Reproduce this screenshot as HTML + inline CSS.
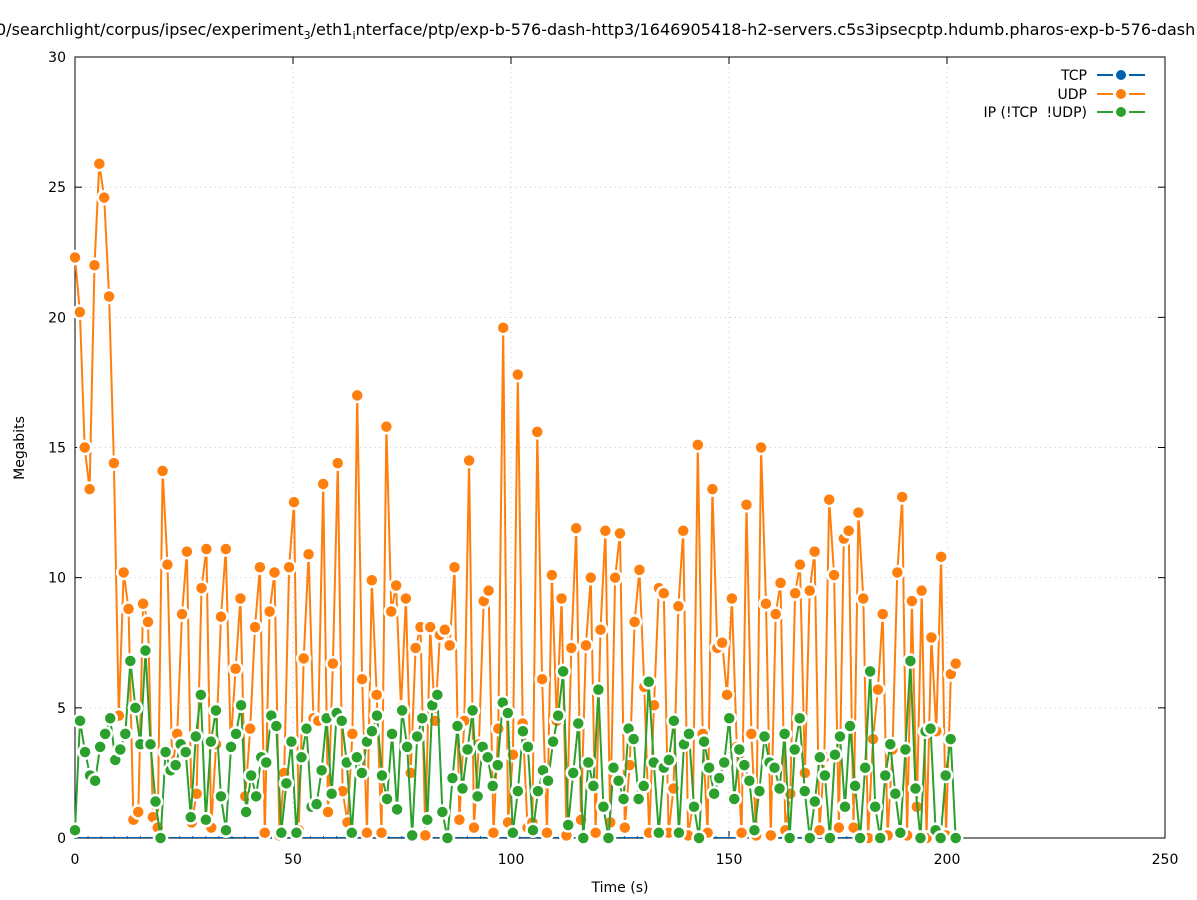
<!DOCTYPE html>
<html><head><meta charset="utf-8"><style>
html,body{margin:0;padding:0;background:#fff;overflow:hidden;}
svg{display:block;font-family:"DejaVu Sans","Liberation Sans",sans-serif;}
</style></head><body>
<svg id="s" width="1197" height="900" xmlns="http://www.w3.org/2000/svg">
<rect width="1197" height="900" fill="#fff"/>
<text x="-4" y="35" font-size="16" fill="#000">0/searchlight/corpus/ipsec/experiment<tspan font-size="11" dy="4">3</tspan><tspan dy="-4">/eth1</tspan><tspan font-size="11" dy="4">i</tspan><tspan dy="-4">nterface/ptp/exp-b-576-dash-http3/1646905418-h2-servers.c5s3ipsecptp.hdumb.pharos-exp-b-576-dash</tspan></text>
<g id="grid" stroke="#c8c8c8" stroke-width="1" stroke-dasharray="1,4"></g>
<g id="axes"></g>
<g id="data"></g>
<g font-size="14" fill="#000">
<text x="1087" y="80" text-anchor="end">TCP</text>
<text x="1087" y="99" text-anchor="end">UDP</text>
<text x="1087" y="117" text-anchor="end">IP (!TCP&#160;&#160;!UDP)</text>
</g>
<g stroke-width="2">
<line x1="1097" y1="75" x2="1113" y2="75" stroke="#0060ad"/><line x1="1129" y1="75" x2="1145" y2="75" stroke="#0060ad"/><circle cx="1121" cy="75" r="5" fill="#0060ad"/>
<line x1="1097" y1="94" x2="1113" y2="94" stroke="#ff7f0e"/><line x1="1129" y1="94" x2="1145" y2="94" stroke="#ff7f0e"/><circle cx="1121" cy="94" r="5" fill="#ff7f0e"/>
<line x1="1097" y1="112" x2="1113" y2="112" stroke="#2ca02c"/><line x1="1129" y1="112" x2="1145" y2="112" stroke="#2ca02c"/><circle cx="1121" cy="112" r="5" fill="#2ca02c"/>
</g>
<text x="620" y="892" font-size="14" text-anchor="middle">Time (s)</text>
<text transform="translate(24,448) rotate(-90)" font-size="14" text-anchor="middle">Megabits</text>
</svg>
<script>
var NS="http://www.w3.org/2000/svg";
function el(t,a,p){var e=document.createElementNS(NS,t);for(var k in a)e.setAttribute(k,a[k]);p.appendChild(e);return e;}
var X0=75,X1=1165,Y0=838,Y1=57;
function px(t){return X0+(X1-X0)*t/250;} function py(v){return Y0-(Y0-Y1)*v/30;}
var g=document.getElementById('grid'),a=document.getElementById('axes'),d=document.getElementById('data');
for(var v=5;v<=30;v+=5)el('line',{x1:X0,y1:py(v),x2:X1,y2:py(v)},g);
for(var t=50;t<=250;t+=50)el('line',{x1:px(t),y1:Y0,x2:px(t),y2:Y1},g);
el('rect',{x:X0,y:Y1,width:X1-X0,height:Y0-Y1,fill:'none',stroke:'#000','stroke-width':1},a);
for(var v=0;v<=30;v+=5){var y=py(v);el('line',{x1:X0,y1:y,x2:X0+7,y2:y,stroke:'#000'},a);el('line',{x1:X1,y1:y,x2:X1-7,y2:y,stroke:'#000'},a);
var tx=el('text',{x:66,y:y+5,'font-size':14,'text-anchor':'end'},a);tx.textContent=v;}
for(var t=0;t<=250;t+=50){var x=px(t);el('line',{x1:x,y1:Y0,x2:x,y2:Y0-7,stroke:'#000'},a);el('line',{x1:x,y1:Y1,x2:x,y2:Y1+7,stroke:'#000'},a);
var tx=el('text',{x:x,y:864,'font-size':14,'text-anchor':'middle'},a);tx.textContent=t;}
var U=[22.3,20.2,15.0,13.4,22.0,25.9,24.6,20.8,14.4,4.7,10.2,8.8,0.7,1.0,9.0,8.3,0.8,0.4,14.1,10.5,2.7,4.0,8.6,11.0,0.6,1.7,9.6,11.1,0.4,3.6,8.5,11.1,3.6,6.5,9.2,1.6,4.2,8.1,10.4,0.2,8.7,10.2,0.1,2.5,10.4,12.9,0.3,6.9,10.9,4.6,4.5,13.6,1.0,6.7,14.4,1.8,0.6,4.0,17.0,6.1,0.2,9.9,5.5,0.2,15.8,8.7,9.7,5.0,9.2,2.5,7.3,8.1,0.1,8.1,4.5,7.8,8.0,7.4,10.4,0.7,4.5,14.5,0.4,3.6,9.1,9.5,0.2,4.2,19.6,0.6,3.2,17.8,4.4,0.4,0.6,15.6,6.1,0.2,10.1,4.5,9.2,0.1,7.3,11.9,0.7,7.4,10.0,0.2,8.0,11.8,0.6,10.0,11.7,0.4,2.8,8.3,10.3,5.8,0.2,5.1,9.6,9.4,0.2,1.9,8.9,11.8,0.1,1.3,15.1,4.0,0.2,13.4,7.3,7.5,5.5,9.2,3.5,0.2,12.8,4.0,0.1,15.0,9.0,0.1,8.6,9.8,0.3,1.7,9.4,10.5,2.5,9.5,11.0,0.3,3.1,13.0,10.1,0.4,11.5,11.8,0.4,12.5,9.2,0.0,3.8,5.7,8.6,0.1,3.4,10.2,13.1,0.1,9.1,1.2,9.5,0.0,7.7,4.1,10.8,0.1,6.3,6.7];
var G=[0.3,4.5,3.3,2.4,2.2,3.5,4.0,4.6,3.0,3.4,4.0,6.8,5.0,3.6,7.2,3.6,1.4,0,3.3,2.6,2.8,3.6,3.3,0.8,3.9,5.5,0.7,3.7,4.9,1.6,0.3,3.5,4.0,5.1,1.0,2.4,1.6,3.1,2.9,4.7,4.3,0.2,2.1,3.7,0.2,3.1,4.2,1.2,1.3,2.6,4.6,1.7,4.8,4.5,2.9,0.2,3.1,2.5,3.7,4.1,4.7,2.4,1.5,4.0,1.1,4.9,3.5,0.1,3.9,4.6,0.7,5.1,5.5,1.0,0.0,2.3,4.3,1.9,3.4,4.9,1.6,3.5,3.1,2.0,2.8,5.2,4.8,0.2,1.8,4.1,3.5,0.3,1.8,2.6,2.2,3.7,4.7,6.4,0.5,2.5,4.4,0.0,2.9,2.0,5.7,1.2,0.0,2.7,2.2,1.5,4.2,3.8,1.5,2.0,6.0,2.9,0.2,2.7,3.0,4.5,0.2,3.6,4.0,1.2,0.0,3.7,2.7,1.7,2.3,2.9,4.6,1.5,3.4,2.8,2.2,0.3,1.8,3.9,2.9,2.7,1.9,4.0,0.0,3.4,4.6,1.8,0.0,1.4,3.1,2.4,0.0,3.2,3.9,1.2,4.3,2.0,0.0,2.7,6.4,1.2,0.0,2.4,3.6,1.7,0.2,3.4,6.8,1.9,0.0,4.1,4.2,0.3,0.0,2.4,3.8,0.0];
function series(arr,col){var n=arr.length,pts=[];for(var i=0;i<n;i++)pts.push([px(202*i/(n-1)),py(arr[i])]);
el('polyline',{points:pts.map(function(p){return p[0].toFixed(1)+','+p[1].toFixed(1)}).join(' '),fill:'none',stroke:col,'stroke-width':2},d);
pts.forEach(function(p){el('circle',{cx:p[0],cy:p[1],r:6.5,fill:col,stroke:'#fff','stroke-width':2.5},d);});}
var tp=[];for(var i=0;i<=202;i++)tp.push(px(i).toFixed(1)+','+(Y0-0.5));
el('polyline',{points:tp.join(' '),fill:'none',stroke:'#0060ad','stroke-width':1},d);
for(var i=0;i<=202;i+=3)el('line',{x1:px(i),y1:Y0-2,x2:px(i),y2:Y0+1,stroke:'#0060ad','stroke-width':1},d);
series(U,'#ff7f0e');series(G,'#2ca02c');
</script>
</body></html>
